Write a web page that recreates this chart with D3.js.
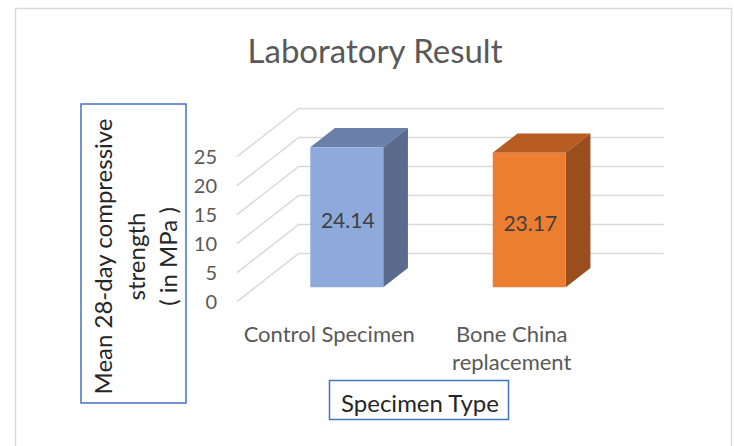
<!DOCTYPE html>
<html>
<head>
<meta charset="utf-8">
<script src="https://cdn.jsdelivr.net/npm/d3@7/dist/d3.min.js"></script>
<style>
  body { margin: 0; background: #fff; }
  svg { display: block; font-family: Lato, "Open Sans", sans-serif; }
</style>
</head>
<body>
<svg id="chart" width="734" height="446"></svg>
<script>
// data
var categories = ["Control Specimen", "Bone China replacement"];
var categoryLines = [["Control Specimen"], ["Bone China", "replacement"]];
var values = [24.14, 23.17];
var yTicks = [0, 5, 10, 15, 20, 25];
var frontColors = ["#8eaadb", "#ed7d31"];
var topColors = ["#6a80a8", "#b75d22"];
var sideColors = ["#5a6b8c", "#9b4e1d"];

var svg = d3.select("#chart");

// outer chart border
svg.append("rect")
	.attr("x", 15.5).attr("y", 8.5)
	.attr("width", 716).attr("height", 500)
	.attr("fill", "#fff")
	.attr("stroke", "#d9d9d9")
	.attr("stroke-width", 1.5);

// oblique 3d: depth vector for the full floor depth
var dx = 61.7, dy = -48.3;

var x = d3.scaleBand()
	.domain(categories)
	.range([237, 602])
	.paddingInner(0.6)
	.paddingOuter(0.3);

var y = d3.scaleLinear()
	.domain([0, 25])
	.range([301.7, 156.7]);

var proj = function(px, v, t){
	return [px + t * dx, y(v) + t * dy];
};

var xLeft = x.range()[0], xRight = x.range()[1];

// grid: side wall diagonals and back wall lines
var grid = svg.append("g")
	.attr("stroke", "#d9d9d9")
	.attr("stroke-width", 1.5)
	.attr("fill", "none");

yTicks.forEach(function(v){
	var a = proj(xLeft, v, 0), b = proj(xLeft, v, 1), c = proj(xRight, v, 1);
	grid.append("path").attr("d", "M" + a + "L" + b + "L" + c);
});

// bars
var t0 = 0.3, t1 = 0.7;
var line = d3.line();

var bars = svg.append("g");
categories.forEach(function(cat, i){
	var xl = x(cat), xr = x(cat) + x.bandwidth(), v = values[i];
	var g = bars.append("g");
	// top
	g.append("path")
		.attr("d", line([proj(xl, v, t0), proj(xr, v, t0), proj(xr, v, t1), proj(xl, v, t1)]) + "Z")
		.attr("fill", topColors[i]);
	// side
	g.append("path")
		.attr("d", line([proj(xr, 0, t0), proj(xr, v, t0), proj(xr, v, t1), proj(xr, 0, t1)]) + "Z")
		.attr("fill", sideColors[i]);
	// front
	g.append("path")
		.attr("d", line([proj(xl, 0, t0), proj(xr, 0, t0), proj(xr, v, t0), proj(xl, v, t0)]) + "Z")
		.attr("fill", frontColors[i]);

	var c = proj(x(cat) + x.bandwidth() / 2, v / 2, t0);
	g.append("text")
		.attr("x", c[0] + 1)
		.attr("y", c[1] + 2)
		.attr("text-anchor", "middle")
		.attr("dominant-baseline", "central")
		.attr("font-size", 21)
		.attr("fill", "#404040")
		.text(d3.format(".2f")(v));
});

// value axis labels
var yAxis = svg.append("g")
	.attr("transform", "translate(" + xLeft + ",0)")
	.call(d3.axisLeft(y).tickValues(yTicks).tickSize(0).tickPadding(20));
yAxis.select(".domain").remove();
yAxis.selectAll("text")
	.attr("font-family", "Lato, sans-serif")
	.attr("font-size", 20)
	.attr("fill", "#595959")
	.attr("dy", "0.36em");

// category labels
var xAxis = svg.append("g")
	.attr("transform", "translate(0," + y(0) + ")")
	.call(d3.axisBottom(x).tickSize(0));
xAxis.select(".domain").remove();
xAxis.selectAll("text").each(function(d, i){
	var txt = d3.select(this).text(null)
		.attr("y", 40).attr("dy", 0)
		.attr("font-family", "Lato, sans-serif")
		.attr("font-size", 22)
		.attr("fill", "#595959");
	categoryLines[i].forEach(function(l, k){
		txt.append("tspan").attr("x", 1).attr("dy", k ? 28.5 : 0).text(l);
	});
});

// title
svg.append("text")
	.attr("x", 375).attr("y", 62.7)
	.attr("text-anchor", "middle")
	.attr("font-size", 33)
	.attr("fill", "#595959")
	.text("Laboratory Result");

// x axis title
svg.append("rect")
	.attr("x", 329.5).attr("y", 380.5)
	.attr("width", 179).attr("height", 39)
	.attr("fill", "none")
	.attr("stroke", "#4472c4")
	.attr("stroke-width", 1.5);
svg.append("text")
	.attr("x", 420).attr("y", 412)
	.attr("text-anchor", "middle")
	.attr("font-size", 24)
	.attr("fill", "#262626")
	.text("Specimen Type");

// y axis title
svg.append("rect")
	.attr("x", 81).attr("y", 104)
	.attr("width", 105).attr("height", 299)
	.attr("fill", "none")
	.attr("stroke", "#4472c4")
	.attr("stroke-width", 1.5);
var yTitle = ["Mean 28-day compressive", "strength", "( in MPa )"];
var yt = svg.append("text")
	.attr("transform", "translate(0,256.5) rotate(-90)")
	.attr("text-anchor", "middle")
	.attr("font-size", 24)
	.attr("fill", "#262626");
yTitle.forEach(function(l, k){
	yt.append("tspan").attr("x", 0).attr("y", 112 + k * 32.5).text(l);
});
</script>
</body>
</html>
